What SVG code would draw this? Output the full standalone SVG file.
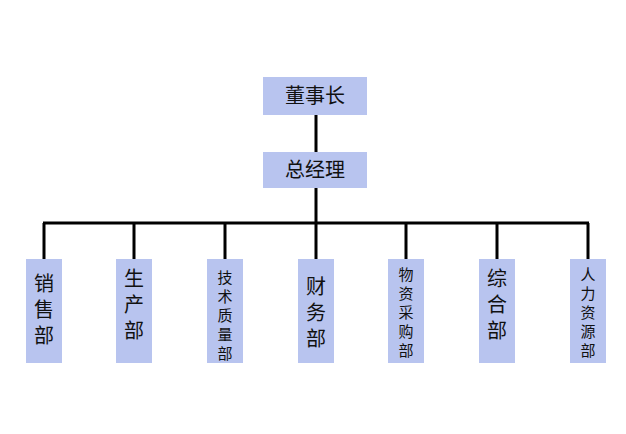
<svg xmlns="http://www.w3.org/2000/svg" width="626" height="434" viewBox="0 0 626 434">
<style>
.b{fill:#b8c4ef}
.l{stroke:#000;stroke-width:3;fill:none}
text{font-family:"Liberation Sans","Noto Sans CJK SC",sans-serif;fill:#111;text-anchor:middle;dominant-baseline:central}
.t{font-size:20px}
.s{font-size:15px}
</style>
<rect width="626" height="434" fill="#fff"/>
<g id="connectors" class="l">
<path d="M316 115V152M316 188V223M43 223H589M44 223V259M134 223V259M225 223V259M316 223V259M406 223V259M497 223V259M588 223V259"/>
</g>
<g id="n1"><rect class="b" x="263" y="77" width="104" height="38"/><text class="t" x="315" y="96">董事长</text></g>
<g id="n2"><rect class="b" x="263" y="152" width="104" height="36"/><text class="t" x="315" y="170">总经理</text></g>
<g id="d1"><rect class="b" x="26" y="259" width="36" height="104"/><text class="t" x="44" y="284">销</text><text class="t" x="44" y="310">售</text><text class="t" x="44" y="336">部</text></g>
<g id="d2"><rect class="b" x="116" y="259" width="36" height="104"/><text class="t" x="134" y="279">生</text><text class="t" x="134" y="305">产</text><text class="t" x="134" y="331">部</text></g>
<g id="d3"><rect class="b" x="207" y="259" width="36" height="104"/><text class="s" x="225" y="277">技</text><text class="s" x="225" y="296">术</text><text class="s" x="225" y="315">质</text><text class="s" x="225" y="334">量</text><text class="s" x="225" y="353">部</text></g>
<g id="d4"><rect class="b" x="298" y="259" width="36" height="104"/><text class="t" x="316" y="287">财</text><text class="t" x="316" y="313">务</text><text class="t" x="316" y="339">部</text></g>
<g id="d5"><rect class="b" x="388" y="259" width="36" height="104"/><text class="s" x="406" y="274">物</text><text class="s" x="406" y="293">资</text><text class="s" x="406" y="312">采</text><text class="s" x="406" y="331">购</text><text class="s" x="406" y="350">部</text></g>
<g id="d6"><rect class="b" x="479" y="259" width="36" height="104"/><text class="t" x="497" y="279">综</text><text class="t" x="497" y="305">合</text><text class="t" x="497" y="331">部</text></g>
<g id="d7"><rect class="b" x="570" y="259" width="36" height="104"/><text class="s" x="588" y="274">人</text><text class="s" x="588" y="293">力</text><text class="s" x="588" y="312">资</text><text class="s" x="588" y="331">源</text><text class="s" x="588" y="350">部</text></g>
</svg>
